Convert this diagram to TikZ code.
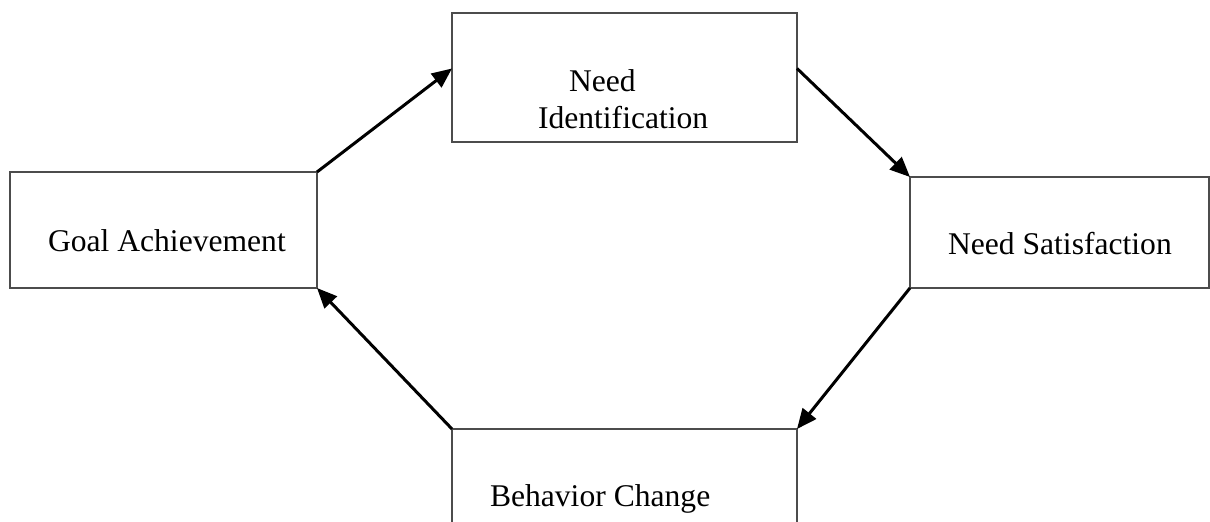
\documentclass[tikz,border=0pt]{standalone}
\usepackage{fontspec}
\setmainfont{Liberation Serif}
\usetikzlibrary{arrows.meta,calc}
\begin{document}
\begin{tikzpicture}[x=1pt,y=-1pt,
  box/.style={draw=black!70,line width=1.1pt,rectangle,inner sep=0pt,outer sep=0pt,anchor=north west},
  lbl/.style={inner sep=0pt,outer sep=0pt,anchor=base west,font=\fontsize{31.6}{38}\selectfont},
  conn/.style={line width=3pt,-{Triangle[length=20pt,width=17pt]}}]
\useasboundingbox (0,0) rectangle (1210,522);
\clip (0,0) rectangle (1210,522);
\node[box,minimum width=307pt,minimum height=116pt] (GA) at (10,172) {};
\node[box,minimum width=345pt,minimum height=129pt] (NI) at (452,13) {};
\node[box,minimum width=299pt,minimum height=111pt] (NS) at (910,177) {};
\node[box,minimum width=345pt,minimum height=130pt] (BC) at (452,429) {};
\node[lbl] (tGA) at (48,251) {Goal Achievement};
\node[lbl] (tNI1) at (569,91) {Need};
\node[lbl] (tNI2) at (538,128) {Identification};
\node[lbl] (tNS) at (948,254) {Need Satisfaction};
\node[lbl] (tBC) at (490,506) {Behavior Change};
\coordinate (NIin) at ($(NI.north west)!0.43!(NI.south west)$);
\coordinate (NIout) at ($(NI.north east)!0.43!(NI.south east)$);
\draw[conn] (GA.north east) -- (NIin);
\draw[conn] (NIout) -- (NS.north west);
\draw[conn] (NS.south west) -- (BC.north east);
\draw[conn] (BC.north west) -- (GA.south east);
\end{tikzpicture}
\end{document}
